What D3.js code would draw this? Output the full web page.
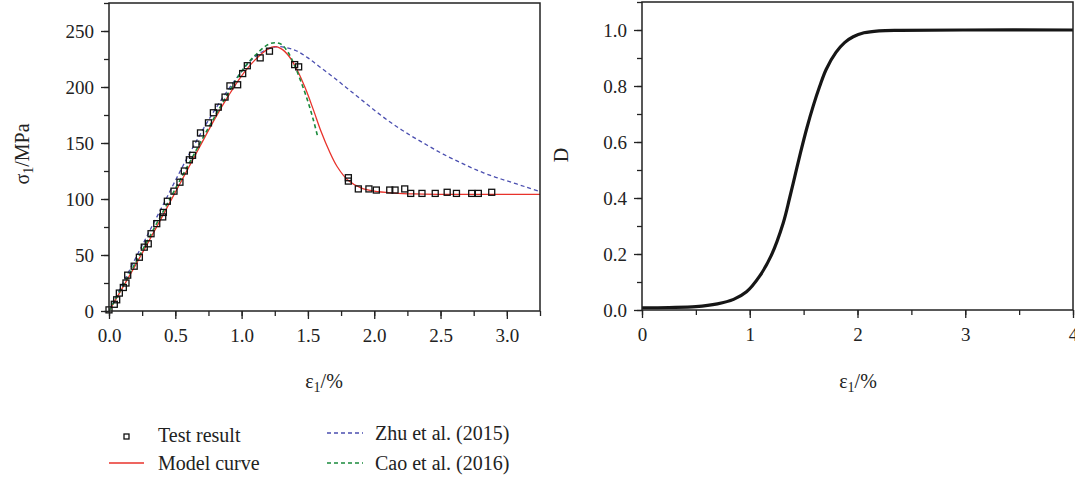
<!DOCTYPE html>
<html>
<head>
<meta charset="utf-8">
<script src="https://cdn.jsdelivr.net/npm/d3@7/dist/d3.min.js"></script>
<style>
  body { margin: 0; background: #fff; }
  svg { display: block; font-family: "Liberation Serif", "DejaVu Serif", serif; }
  .tick text { font-family: "Liberation Serif", "DejaVu Serif", serif; font-size: 19px; fill: #222; }
  .tick line, .domain { stroke: #222; }
</style>
</head>
<body>
<svg id="chart" width="1075" height="479"></svg>
<script>
// test result points: [strain %, stress MPa]
const testStrain = [0.0, 0.04, 0.058, 0.078, 0.108, 0.128, 0.141, 0.19, 0.229, 0.266, 0.296, 0.317, 0.36, 0.405, 0.41, 0.44,
  0.49, 0.535, 0.568, 0.606, 0.63, 0.656, 0.69, 0.75, 0.787, 0.824, 0.875, 0.912, 0.97, 1.008, 1.043, 1.14, 1.21,
  1.40, 1.43, 1.805, 1.805, 1.88, 1.96, 2.016, 2.117, 2.157, 2.23, 2.275, 2.36, 2.46, 2.55, 2.62, 2.735, 2.785, 2.886];
const testStress = [1, 6, 10, 16, 21, 25, 32, 40, 48, 57, 60, 69, 78, 84, 88, 98,
  107, 115, 125, 135, 139, 149, 159, 168, 177, 182, 191, 201, 202, 212, 219, 226, 232,
  220, 218, 119, 116, 109, 109, 108, 108, 108, 109, 105, 105, 105, 106, 105, 105, 105, 106];

const modelStrain = [0, 0.2, 0.4, 0.6, 0.8, 0.9, 1.0, 1.1, 1.2, 1.25, 1.3, 1.36, 1.42, 1.48, 1.54, 1.6, 1.66, 1.72, 1.8, 1.9, 2.0, 2.15, 2.3, 2.5, 3.25];
const modelStress = [0, 41, 84, 128, 172, 192, 210, 224, 234, 236, 234, 227, 215, 199, 180, 160, 143, 129, 117, 110, 107, 105.3, 104.5, 104.2, 104.2];

const zhuStrain = [0, 0.2, 0.4, 0.6, 0.8, 1.0, 1.1, 1.2, 1.28, 1.4, 1.5, 1.6, 1.7, 1.8, 1.9, 2.02, 2.14, 2.27, 2.40, 2.52, 2.65, 2.77, 2.90, 3.02, 3.15, 3.25];
const zhuStress = [0, 47, 93, 139, 180, 214, 227, 234, 236, 233, 226, 217, 208, 198.5, 189, 177.5, 167, 157, 148, 140, 132.5, 126, 120, 115.5, 110.5, 106.5];

const caoStrain = [0, 0.2, 0.4, 0.6, 0.8, 1.0, 1.1, 1.2, 1.25, 1.3, 1.35, 1.4, 1.45, 1.5, 1.54, 1.575];
const caoStress = [0, 43, 87, 131, 174, 214, 228, 238, 239.5, 238, 231, 219, 204, 187, 171, 155];

// damage variable D vs strain
const dStrain = [0, 0.25, 0.5, 0.7, 0.85, 0.97, 1.09, 1.2, 1.31, 1.37, 1.42, 1.47, 1.53, 1.59, 1.65, 1.71, 1.80, 1.88, 1.96, 2.06, 2.2, 2.4, 3.0, 4.0];
const dValue = [0.008, 0.009, 0.012, 0.022, 0.038, 0.065, 0.12, 0.195, 0.31, 0.40, 0.48, 0.56, 0.65, 0.73, 0.80, 0.86, 0.92, 0.955, 0.976, 0.99, 0.997, 0.999, 1.0, 1.0];

const leftXTicks = [0, 0.5, 1.0, 1.5, 2.0, 2.5, 3.0];
const leftYTicks = [0, 50, 100, 150, 200, 250];
const rightXTicks = [0, 1, 2, 3, 4];
const rightYTicks = [0, 0.2, 0.4, 0.6, 0.8, 1.0];

const zip = (a, b) => a.map((v, i) => [v, b[i]]);

const svg = d3.select('#chart');

function frame(g, x, y, xTicks, xMinor, yTicks, yMinor, xFmt, yFmt) {
  const [x0, x1] = x.range();
  const [y0, y1] = y.range();
  const clean = s => s.attr('font-family', null).attr('font-size', null)
    .call(t => t.select('.domain').remove());
  g.append('g').attr('transform', `translate(0,${y0})`)
    .call(d3.axisBottom(x).tickValues(xMinor).tickSize(5).tickFormat(''))
    .call(clean);
  g.append('g').attr('transform', `translate(0,${y0})`)
    .call(d3.axisBottom(x).tickValues(xTicks).tickSize(8).tickPadding(10).tickFormat(xFmt))
    .call(clean);
  g.append('g').attr('transform', `translate(${x0},0)`)
    .call(d3.axisLeft(y).tickValues(yMinor).tickSize(5).tickFormat(''))
    .call(clean);
  g.append('g').attr('transform', `translate(${x0},0)`)
    .call(d3.axisLeft(y).tickValues(yTicks).tickSize(8).tickPadding(7).tickFormat(yFmt))
    .call(clean);
  g.selectAll('.tick line').attr('stroke-width', 1.3);
  g.selectAll('.tick text').attr('font-family', '"Liberation Serif", serif');
  g.append('rect')
    .attr('x', x0).attr('y', y1)
    .attr('width', x1 - x0).attr('height', y0 - y1)
    .attr('fill', 'none').attr('stroke', '#222').attr('stroke-width', 1.5);
}

// ---------- left chart ----------
const xL = d3.scaleLinear().domain([0, 3.25]).range([109, 540]);
const yL = d3.scaleLinear().domain([0, 275]).range([311, 3]);
const gL = svg.append('g');

gL.append('defs').append('clipPath').attr('id', 'clipL')
  .append('rect').attr('x', 109).attr('y', 3).attr('width', 431).attr('height', 308);

const lineL = d3.line().x(d => xL(d[0])).y(d => yL(d[1])).curve(d3.curveCatmullRom.alpha(0.5));
const plotL = gL.append('g').attr('clip-path', 'url(#clipL)');

plotL.append('path').datum(zip(zhuStrain, zhuStress))
  .attr('d', lineL).attr('fill', 'none')
  .attr('stroke', '#4b4fb0').attr('stroke-width', 1.3).attr('stroke-dasharray', '4,3');
plotL.append('path').datum(zip(modelStrain, modelStress))
  .attr('d', lineL).attr('fill', 'none')
  .attr('stroke', '#e8322b').attr('stroke-width', 1.3);
plotL.append('path').datum(zip(caoStrain, caoStress))
  .attr('d', lineL).attr('fill', 'none')
  .attr('stroke', '#1a8a3c').attr('stroke-width', 1.6).attr('stroke-dasharray', '4,3');

gL.append('g').selectAll('rect')
  .data(zip(testStrain, testStress))
  .join('rect')
  .attr('x', d => xL(d[0]) - 3).attr('y', d => yL(d[1]) - 3)
  .attr('width', 6).attr('height', 6)
  .attr('fill', 'none').attr('stroke', '#111').attr('stroke-width', 1.3);

frame(gL, xL, yL,
  leftXTicks, d3.range(0, 3.26, 0.25),
  leftYTicks, d3.range(0, 276, 25),
  d3.format('.1f'), d3.format('d'));

gL.append('text')
  .attr('transform', 'translate(29,154) rotate(-90)')
  .attr('text-anchor', 'middle').attr('font-size', 20).attr('fill', '#222')
  .html('σ<tspan font-size="14" dy="4">1</tspan><tspan dy="-4">/MPa</tspan>');
gL.append('text')
  .attr('x', 324).attr('y', 388)
  .attr('text-anchor', 'middle').attr('font-size', 20).attr('fill', '#222')
  .html('ε<tspan font-size="14" dy="4">1</tspan><tspan dy="-4">/%</tspan>');

// ---------- right chart ----------
const xR = d3.scaleLinear().domain([0, 4]).range([642, 1073]);
const yR = d3.scaleLinear().domain([0, 1.1]).range([310, 2]);
const gR = svg.append('g');

gR.append('path').datum(zip(dStrain, dValue))
  .attr('d', d3.line().x(d => xR(d[0])).y(d => yR(d[1])).curve(d3.curveCatmullRom.alpha(0.5)))
  .attr('fill', 'none').attr('stroke', '#161616').attr('stroke-width', 3.2);

frame(gR, xR, yR,
  rightXTicks, d3.range(0, 4.01, 0.5),
  rightYTicks, d3.range(0, 1.11, 0.1),
  d3.format('d'), d3.format('.1f'));

gR.append('text')
  .attr('transform', 'translate(568,155) rotate(-90)')
  .attr('text-anchor', 'middle').attr('font-size', 20).attr('fill', '#222')
  .text('D');
gR.append('text')
  .attr('x', 858).attr('y', 388)
  .attr('text-anchor', 'middle').attr('font-size', 20).attr('fill', '#222')
  .html('ε<tspan font-size="14" dy="4">1</tspan><tspan dy="-4">/%</tspan>');

// ---------- legend ----------
const legend = svg.append('g').attr('font-size', 20).attr('fill', '#222');
legend.append('rect').attr('x', 124).attr('y', 434).attr('width', 5).attr('height', 5)
  .attr('fill', 'none').attr('stroke', '#111').attr('stroke-width', 1.3);
legend.append('text').attr('x', 158).attr('y', 442).text('Test result');
legend.append('line').attr('x1', 109).attr('x2', 144).attr('y1', 463).attr('y2', 463)
  .attr('stroke', '#e8322b').attr('stroke-width', 1.3);
legend.append('text').attr('x', 158).attr('y', 470).text('Model curve');
legend.append('line').attr('x1', 327).attr('x2', 363).attr('y1', 433).attr('y2', 433)
  .attr('stroke', '#4b4fb0').attr('stroke-width', 1.3).attr('stroke-dasharray', '4,3');
legend.append('text').attr('x', 375).attr('y', 440).text('Zhu et al. (2015)');
legend.append('line').attr('x1', 327).attr('x2', 363).attr('y1', 463).attr('y2', 463)
  .attr('stroke', '#1a8a3c').attr('stroke-width', 1.6).attr('stroke-dasharray', '4,3');
legend.append('text').attr('x', 375).attr('y', 470).text('Cao et al. (2016)');
</script>
</body>
</html>
